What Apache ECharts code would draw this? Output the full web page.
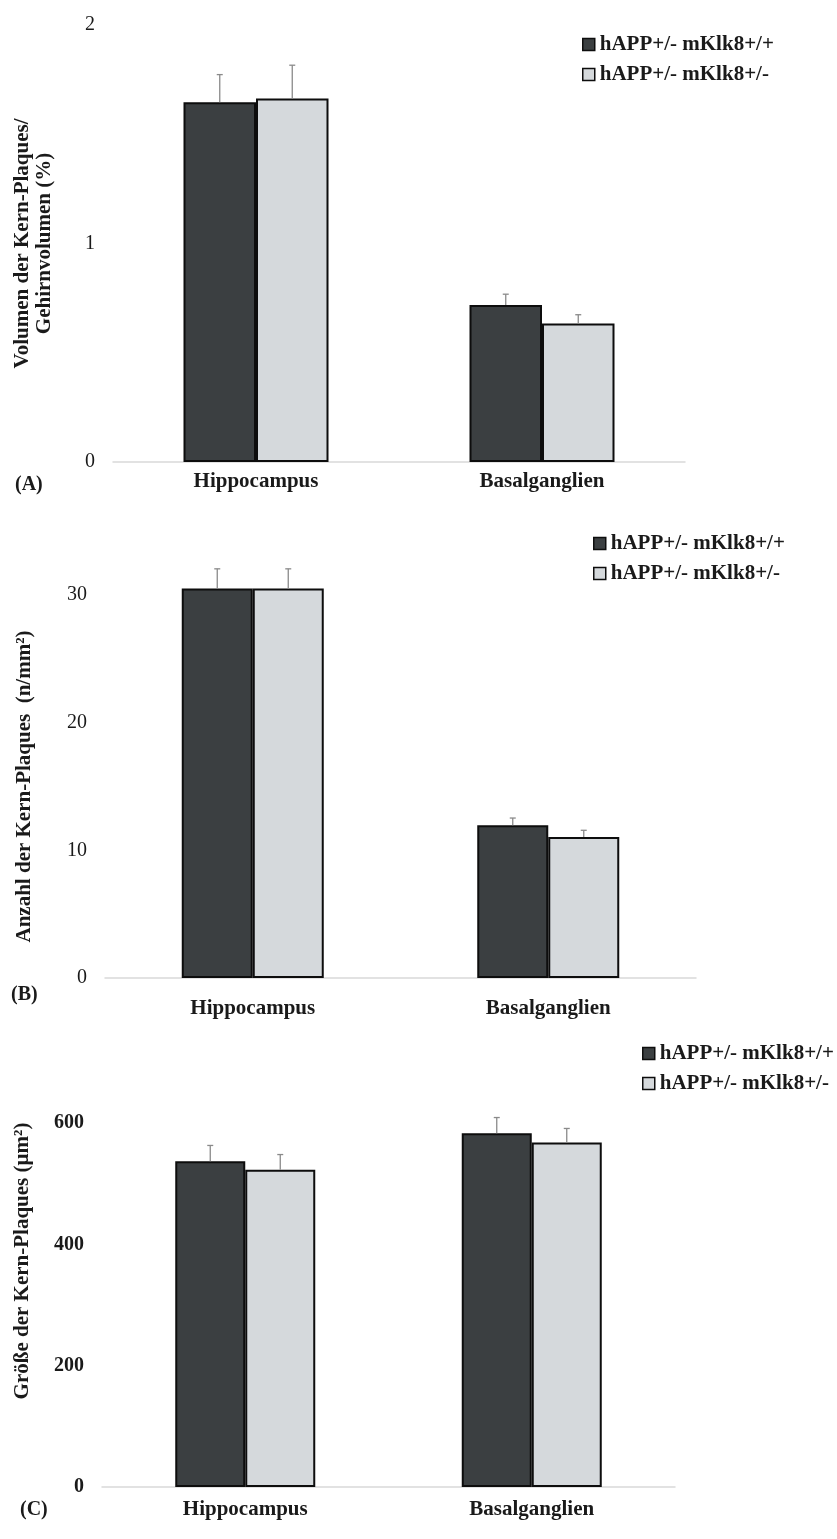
<!DOCTYPE html>
<html>
<head>
<meta charset="utf-8">
<script src="https://cdn.jsdelivr.net/npm/echarts@6/dist/echarts.min.js"></script>
<style>
  html, body { margin: 0; padding: 0; background: #ffffff; }
  #chart { width: 837px; height: 1539px; }
</style>
</head>
<body>
<div id="chart"></div>
<script>
// ---------- data ----------
const categories = ['Hippocampus', 'Basalganglien'];
const seriesNames = ['hAPP+/- mKlk8+/+', 'hAPP+/- mKlk8+/-'];

// (A) Volumen der Kern-Plaques / Gehirnvolumen (%)
const volumeWT = [1.646, 0.718];
const volumeWTErr = [0.127, 0.05];
const volumeHet = [1.664, 0.634];
const volumeHetErr = [0.152, 0.04];
const volumeTicks = [0, 1, 2];

// (B) Anzahl der Kern-Plaques (n/mm²)
const countWT = [30.5, 11.96];
const countWTErr = [1.55, 0.57];
const countHet = [30.5, 11.04];
const countHetErr = [1.55, 0.53];
const countTicks = [0, 10, 20, 30];

// (C) Größe der Kern-Plaques (µm²)
const sizeWT = [537, 583];
const sizeWTErr = [26, 26];
const sizeHet = [523, 568];
const sizeHetErr = [25, 23];
const sizeTicks = [0, 200, 400, 600];

// ---------- styles ----------
const FONT = '"Liberation Serif", "Times New Roman", serif';
const TXT = '#1a1a1a';
const DARK = '#3b3f41';
const LIGHT = '#d5d9dc';
const EDGE = '#0d0d0d';
const ERR = '#8a8a8a';

function errRender(barW, side) {
  return function (params, api) {
    const x = api.value(0), v = api.value(1), e = api.value(2);
    const p0 = api.coord([x, v]);
    const p1 = api.coord([x, v + e]);
    const cx = p0[0] + side * barW / 2;
    const st = { stroke: ERR, lineWidth: 1.3 };
    return {
      type: 'group',
      children: [
        { type: 'line', shape: { x1: cx, y1: p0[1], x2: cx, y2: p1[1] }, style: st },
        { type: 'line', shape: { x1: cx - 3, y1: p1[1], x2: cx + 3, y2: p1[1] }, style: st }
      ]
    };
  };
}

function errData(vals, errs) {
  return vals.map((v, i) => [i, v, errs[i]]);
}

function barSeries(name, color, vals, idx, barW) {
  return {
    type: 'bar', name: name, xAxisIndex: idx, yAxisIndex: idx,
    data: vals, barWidth: barW, barGap: '0%', clip: false,
    itemStyle: { color: color, borderColor: EDGE, borderWidth: 2 },
    emphasis: { disabled: true }
  };
}

function errSeries(vals, errs, idx, barW, side) {
  return {
    type: 'custom', name: 'err' + idx + side, xAxisIndex: idx, yAxisIndex: idx,
    data: errData(vals, errs), renderItem: errRender(barW, side), clip: false, z: 5,
    silent: true
  };
}

function xAxisCfg(idx, margin) {
  return {
    type: 'category', gridIndex: idx, data: categories,
    axisLine: { show: true, lineStyle: { color: '#d9d9d9', width: 1.5 } },
    axisTick: { show: false },
    axisLabel: { fontFamily: FONT, fontSize: 21, fontWeight: 'bold', color: TXT, margin: margin }
  };
}

function yAxisCfg(idx, ticks, name, gap, bold, extra) {
  const ax = {
    type: 'value', gridIndex: idx,
    min: ticks[0], max: ticks[ticks.length - 1], interval: ticks[1] - ticks[0],
    axisLine: { show: false }, axisTick: { show: false }, splitLine: { show: false },
    axisLabel: { fontFamily: FONT, fontSize: 20, fontWeight: bold ? 'bold' : 'normal', color: TXT, margin: 18 },
    name: name, nameLocation: 'middle', nameRotate: 90, nameGap: gap,
    nameTextStyle: Object.assign({ fontFamily: FONT, fontSize: 21, fontWeight: 'bold', color: TXT, lineHeight: 22 }, extra || {})
  };
  return ax;
}

function legendCfg(left, top) {
  return {
    orient: 'vertical', left: left, top: top, padding: 0, data: seriesNames,
    itemWidth: 12, itemHeight: 12, itemGap: 9, icon: 'rect',
    itemStyle: { borderColor: EDGE, borderWidth: 1.5 },
    textStyle: { fontFamily: FONT, fontSize: 21, fontWeight: 'bold', color: TXT },
    selectedMode: false
  };
}

const chart = echarts.init(document.getElementById('chart'), null, { renderer: 'canvas' });

const option = {
  backgroundColor: '#ffffff',
  animation: false,
  title: [
    { text: '(A)', left: 10, top: 470, textStyle: { fontFamily: FONT, fontSize: 20, fontWeight: 'bold', color: TXT } },
    { text: '(B)', left: 6, top: 980, textStyle: { fontFamily: FONT, fontSize: 20, fontWeight: 'bold', color: TXT } },
    { text: '(C)', left: 15, top: 1495, textStyle: { fontFamily: FONT, fontSize: 20, fontWeight: 'bold', color: TXT } }
  ],
  legend: [legendCfg(582, 34), legendCfg(593, 533), legendCfg(642, 1043)],
  grid: [
    { left: 113, right: 152, top: 25, bottom: 1077 },
    { left: 105, right: 141, top: 595, bottom: 561 },
    { left: 102, right: 162, top: 1123, bottom: 52 }
  ],
  xAxis: [xAxisCfg(0, 9), xAxisCfg(1, 20), xAxisCfg(2, 12)],
  yAxis: [
    yAxisCfg(0, volumeTicks, 'Volumen der Kern-Plaques/\nGehirnvolumen (%)', 57, false),
    yAxisCfg(1, countTicks, 'Anzahl der Kern-Plaques  (n/mm²)', 69, false),
    yAxisCfg(2, sizeTicks, 'Größe der Kern-Plaques (µm²)', 68, true, { padding: [0, 0, 0, 88] })
  ],
  series: [
    barSeries(seriesNames[0], DARK, volumeWT, 0, 72.5),
    barSeries(seriesNames[1], LIGHT, volumeHet, 0, 72.5),
    errSeries(volumeWT, volumeWTErr, 0, 72.5, -1),
    errSeries(volumeHet, volumeHetErr, 0, 72.5, 1),

    barSeries(seriesNames[0], DARK, countWT, 1, 71),
    barSeries(seriesNames[1], LIGHT, countHet, 1, 71),
    errSeries(countWT, countWTErr, 1, 71, -1),
    errSeries(countHet, countHetErr, 1, 71, 1),

    barSeries(seriesNames[0], DARK, sizeWT, 2, 70),
    barSeries(seriesNames[1], LIGHT, sizeHet, 2, 70),
    errSeries(sizeWT, sizeWTErr, 2, 70, -1),
    errSeries(sizeHet, sizeHetErr, 2, 70, 1)
  ]
};

chart.setOption(option);
</script>
</body>
</html>
